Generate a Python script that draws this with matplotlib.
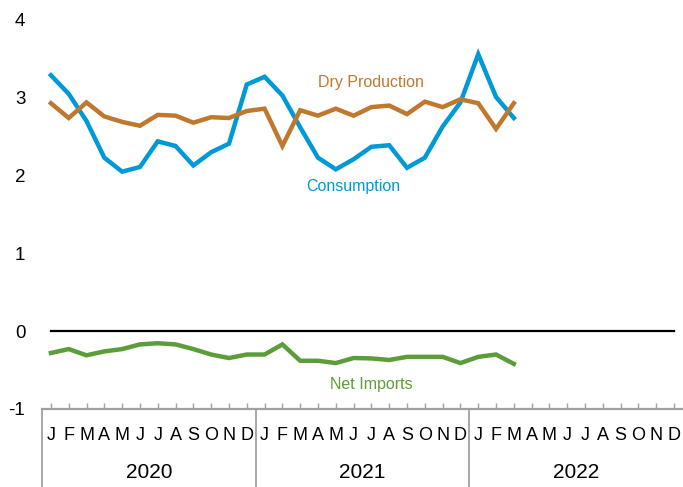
#!/usr/bin/env python3

import numpy as np
import matplotlib
matplotlib.use("Agg")
import matplotlib.pyplot as plt
import matplotlib.transforms as mtransforms
from matplotlib import font_manager

# monthly values, Jan 2020 .. Mar 2022
dry_production = [2.93, 2.74, 2.94, 2.76, 2.69, 2.64, 2.78, 2.77, 2.68, 2.75, 2.74, 2.83,
                  2.86, 2.38, 2.84, 2.77, 2.86, 2.77, 2.88, 2.90, 2.79, 2.95, 2.88, 2.98,
                  2.93, 2.60, 2.93]
consumption = [3.29, 3.05, 2.70, 2.23, 2.05, 2.11, 2.44, 2.38, 2.13, 2.30, 2.41, 3.17,
               3.27, 3.03, 2.62, 2.23, 2.08, 2.21, 2.37, 2.39, 2.10, 2.23, 2.63, 2.94,
               3.56, 3.01, 2.74]
net_imports = [-0.28, -0.23, -0.31, -0.26, -0.23, -0.17, -0.155, -0.17, -0.23, -0.30, -0.345, -0.30,
               -0.30, -0.17, -0.38, -0.38, -0.41, -0.345, -0.35, -0.37, -0.33, -0.33, -0.33, -0.41,
               -0.33, -0.30, -0.42]

month_letters = ["J", "F", "M", "A", "M", "J", "J", "A", "S", "O", "N", "D"]
years = ["2020", "2021", "2022"]
yticks = [-1, 0, 1, 2, 3, 4]

names = {f.name for f in font_manager.fontManager.ttflist}
narrow = "Liberation Sans Narrow" if "Liberation Sans Narrow" in names else "Liberation Sans"
plt.rcParams['font.family'] = ['Liberation Sans', 'DejaVu Sans']

c_dry = '#C0782F'
c_con = '#0099D8'
c_net = '#5B9D38'
c_axis = '#A0A0A0'

n_months = 12 * len(years)
fig = plt.figure(figsize=(6.83, 4.87), dpi=100)
ax = fig.add_axes([0.0615, 0.1602, 0.9385, 0.7988])

x = np.arange(len(dry_production))
ax.plot(np.arange(n_months), np.zeros(n_months), color='black', lw=1.6, zorder=1)
ax.plot(x, dry_production, color=c_dry, lw=3.2, solid_joinstyle='miter', zorder=3)
ax.plot(x, consumption, color=c_con, lw=3.2, solid_joinstyle='miter', zorder=2)
ax.plot(x, net_imports, color=c_net, lw=3.2, solid_joinstyle='miter', zorder=3)

ax.text(18.0, 3.19, "Dry Production", color=c_dry, fontsize=11.5, family=narrow, ha='center', va='center')
ax.text(17.0, 1.86, "Consumption", color=c_con, fontsize=11.5, family=narrow, ha='center', va='center')
ax.text(18.0, -0.68, "Net Imports", color=c_net, fontsize=11.5, family=narrow, ha='center', va='center')

ax.set_xlim(-0.5, n_months - 0.5)
ax.set_ylim(-1, 4)
for s in ['left', 'right', 'top']:
	ax.spines[s].set_visible(False)
ax.spines['bottom'].set_color(c_axis)
ax.spines['bottom'].set_linewidth(1.6)

ax.set_yticks(yticks)
ax.set_yticklabels([str(v) for v in yticks], fontsize=13.5)
ax.tick_params(axis='y', length=0, pad=12)
ax.set_xticks(np.arange(n_months))
ax.set_xticklabels([])
ax.tick_params(axis='x', direction='in', length=4, width=1, color=c_axis)

trans = mtransforms.blended_transform_factory(ax.transData, ax.transAxes)
for i in range(n_months):
	ax.text(i, -0.068, month_letters[i % 12], transform=trans, fontsize=13,
		family=narrow, ha='center', va='center')
for k, yr in enumerate(years):
	ax.text(12 * k + 5.5, -0.163, yr, transform=trans, fontsize=15,
		family=narrow, ha='center', va='center')
	ax.plot([12 * k - 0.5] * 2, [0, -0.21], transform=trans, color=c_axis,
		lw=1.3, clip_on=False)

fig.savefig("out.png", dpi=100)
